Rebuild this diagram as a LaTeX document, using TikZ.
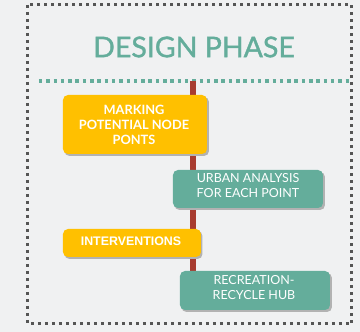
\documentclass[tikz,border=0pt]{standalone}
\usepackage{fontspec}
\setmainfont{Lato}
\newfontfamily\titlefont[FakeBold=1.2]{Lato}
\newfontfamily\arialb{Liberation Sans}
\definecolor{bg}{HTML}{F0F1F2}
\definecolor{tealc}{HTML}{64AD9B}
\definecolor{yel}{HTML}{FFC000}
\definecolor{redl}{HTML}{A83C30}
\definecolor{dotg}{HTML}{555555}
\begin{document}
\begin{tikzpicture}[x=1pt,y=-1pt,
  shad/.style={fill=black!30, rounded corners=5pt},
  boxtext/.style={text=white, align=center, inner sep=0pt}]
\fill[bg] (0,0) rectangle (360,332);
\useasboundingbox (0,0) rectangle (360,332);
% outer dotted border
\draw[dotg, line width=3pt, dash pattern=on 3pt off 4pt] (28,5) rectangle (352,324);
% title
\node[text=tealc, font=\titlefont\fontsize{28.5}{32}\selectfont] (title) at (194,47) {DESIGN PHASE};
% teal dashed line
\coordinate (dl) at (39,81);
\coordinate (dr) at (352,81);
\draw[tealc, line width=3.5pt, dash pattern=on 3.5pt off 3.8pt] (dl) -- (dr);
% red spine
\coordinate (top) at (193,81);
\coordinate (bot) at (193,272);
\draw[redl, line width=6.5pt] (top) -- (bot);
% boxes with shadows
\fill[shad] (64.5,97) rectangle (209,156);
\fill[yel, rounded corners=5pt] (63,95) rectangle (207,154);
\node[boxtext, font=\bfseries\fontsize{12.8}{15}\selectfont] (b1) at (134,125) {MARKING\\POTENTIAL NODE\\PONTS};

\fill[shad] (174.5,172) rectangle (325,210);
\fill[tealc, rounded corners=5pt] (173,170) rectangle (323,208);
\node[boxtext, font=\fontsize{12.5}{15}\selectfont] (b2) at (248,186) {URBAN ANALYSIS\\FOR EACH POINT};

\fill[shad] (64.5,231) rectangle (202.5,259);
\fill[yel, rounded corners=5pt] (63,229) rectangle (201,257);
\node[boxtext, font=\arialb\bfseries\fontsize{12.4}{14}\selectfont] (b3) at (131,241) {INTERVENTIONS};

\fill[shad] (181.5,273) rectangle (332,312);
\fill[tealc, rounded corners=5pt] (180,271) rectangle (330,310);
\node[boxtext, font=\fontsize{12.5}{15}\selectfont] (b4) at (254,288) {RECREATION-\\RECYCLE HUB};
\end{tikzpicture}
\end{document}
